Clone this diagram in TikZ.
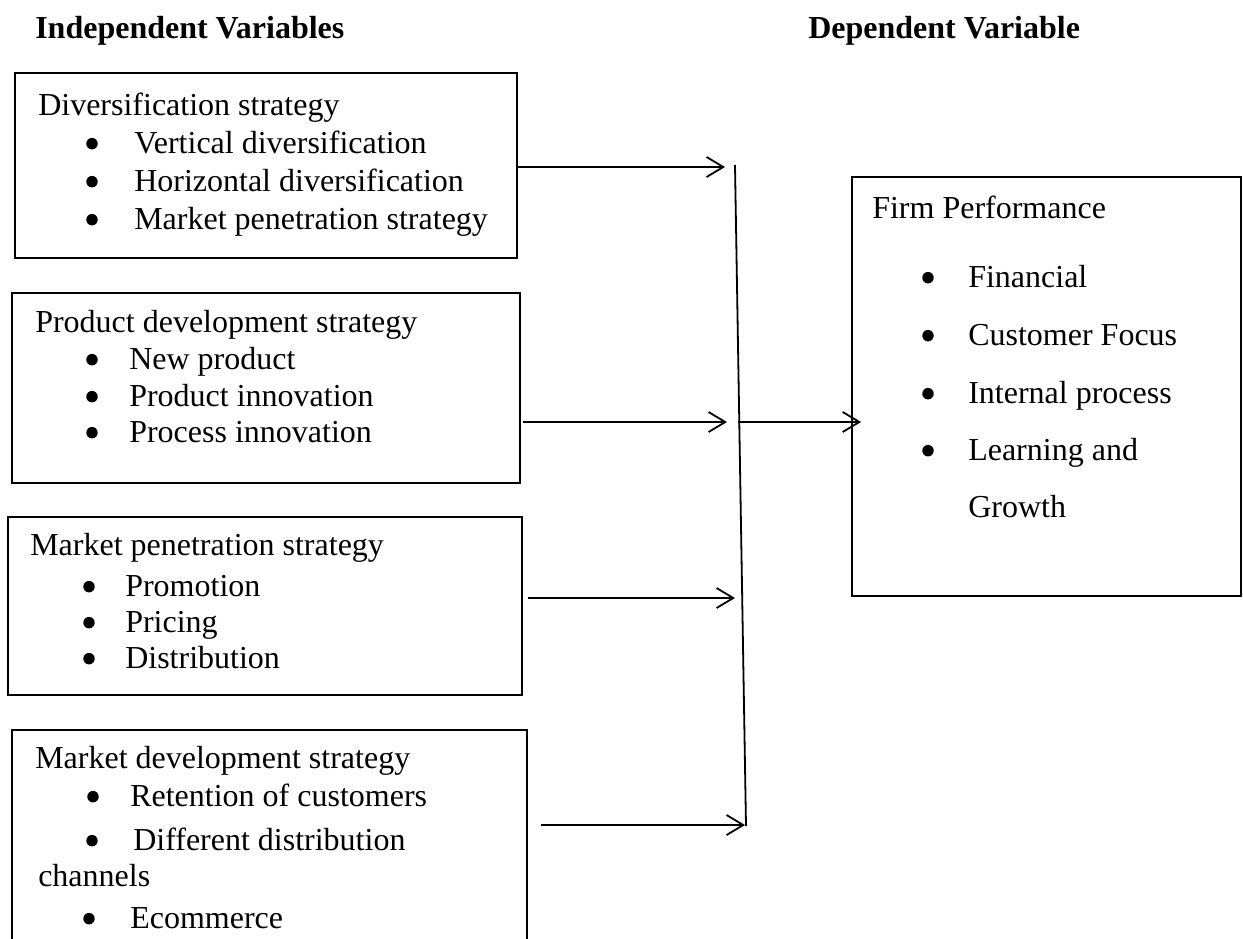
\documentclass[tikz,border=0pt]{standalone}
\usepackage{fontspec}
\setmainfont{Liberation Serif}
\usetikzlibrary{arrows.meta,fit}
\begin{document}
\begin{tikzpicture}[x=0.75pt,y=-0.75pt,
  box/.style={draw,line width=1.35pt,inner sep=0pt,rectangle},
  txt/.style={anchor=base west,inner sep=0pt,font=\fontsize{24}{28}\selectfont},
  hd/.style={txt,font=\fontsize{24}{28}\selectfont\bfseries},
  bul/.style={circle,fill=black,inner sep=0pt,minimum size=8.6pt,yshift=7pt},
  arr/.style={line width=1.35pt,-{Straight Barb[length=12.5pt,width=15pt,line width=1.35pt]}},
  ln/.style={line width=1.35pt}]
\useasboundingbox (0,0) rectangle (1243,939);
% headings
\node[hd] (h1) at (35,38) {Independent Variables};
\node[hd] (h2) at (808,38) {Dependent Variable};
% boxes
\node[box,fit={(15,73) (517,258)}] (b1) {};
\node[box,fit={(12,293) (520,483)}] (b2) {};
\node[box,fit={(8,517) (522,695)}] (b3) {};
\node[box,fit={(12,730) (527,960)}] (b4) {};
\node[box,fit={(852,177) (1241,596)}] (fp) {};
% box 1 text
\node[txt] (t1) at (38,115) {Diversification strategy};
\node[bul] (u11) at (92,153) {}; \node[txt] (t11) at (134,153) {Vertical diversification};
\node[bul] (u12) at (92,191) {}; \node[txt] (t12) at (134,191) {Horizontal diversification};
\node[bul] (u13) at (92,229) {}; \node[txt] (t13) at (134,229) {Market penetration strategy};
% box 2 text
\node[txt] (t2) at (35,332) {Product development strategy};
\node[bul] (u21) at (92,369) {}; \node[txt] (t21) at (129,369) {New product};
\node[bul] (u22) at (92,406) {}; \node[txt] (t22) at (129,406) {Product innovation};
\node[bul] (u23) at (92,442) {}; \node[txt] (t23) at (129,442) {Process innovation};
% box 3 text
\node[txt] (t3) at (30,555) {Market penetration strategy};
\node[bul] (u31) at (89,596) {}; \node[txt] (t31) at (125,596) {Promotion};
\node[bul] (u32) at (89,632) {}; \node[txt] (t32) at (125,632) {Pricing};
\node[bul] (u33) at (89,668) {}; \node[txt] (t33) at (125,668) {Distribution};
% box 4 text
\node[txt] (t4) at (35,768) {Market development strategy};
\node[bul] (u41) at (93,806) {}; \node[txt] (t41) at (130,806) {Retention of customers};
\node[bul] (u42) at (92,850) {}; \node[txt] (t42) at (133,850) {Different distribution};
\node[txt] (t43) at (38,886) {channels};
\node[bul] (u44) at (89,928) {}; \node[txt] (t44) at (130,928) {Ecommerce};
% firm performance text
\node[txt] (t5) at (872,218) {Firm Performance};
\node[bul] (u51) at (928,287) {}; \node[txt] (t51) at (968,287) {Financial};
\node[bul] (u52) at (928,345) {}; \node[txt] (t52) at (968,345) {Customer Focus};
\node[bul] (u53) at (928,403) {}; \node[txt] (t53) at (968,403) {Internal process};
\node[bul] (u54) at (928,460) {}; \node[txt] (t54) at (968,460) {Learning and};
\node[txt] (t55) at (968,517) {Growth};
% connectors
\coordinate (vt) at (735,165);
\coordinate (vb) at (746,826);
\coordinate (a1) at (725,167);
\coordinate (a2) at (727,422);
\coordinate (a3) at (735,598);
\coordinate (a4) at (745,825);
\coordinate (j) at (738,422);
\draw[ln] (vt) -- (vb);
\draw[arr] (b1.east |- a1) -- (a1);
\draw[arr] ([xshift=1.5pt]b2.east |- a2) -- (a2);
\draw[arr] ([xshift=3.75pt]b3.east |- a3) -- (a3);
\draw[arr] ([xshift=9.75pt]b4.east |- a4) -- (a4);
\draw[arr] (j) -- ([xshift=7.5pt]fp.west |- j);
\end{tikzpicture}
\end{document}
